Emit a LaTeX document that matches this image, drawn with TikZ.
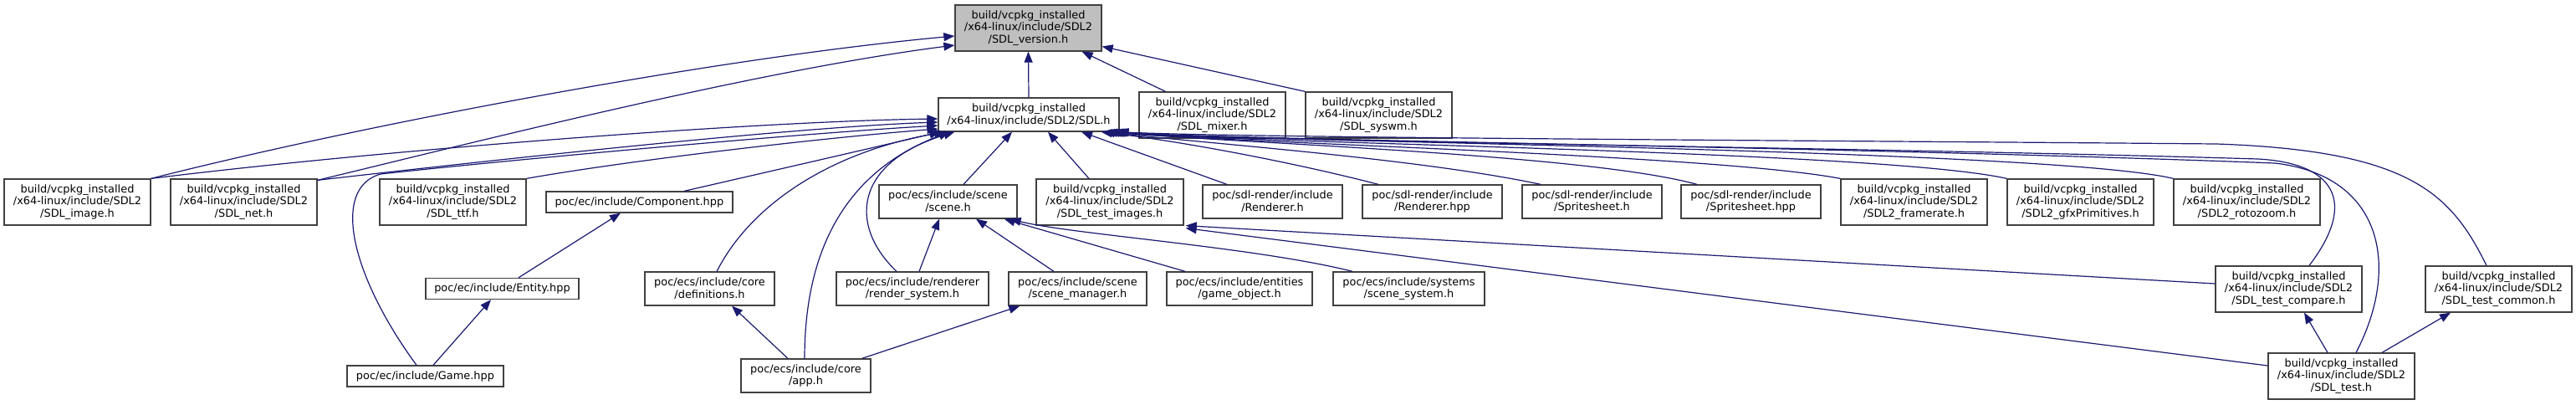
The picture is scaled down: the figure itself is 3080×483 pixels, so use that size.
\documentclass[tikz,border=0pt]{standalone}
\usepackage{fontspec}
\setmainfont{DejaVu Sans}
\usepackage{tikz}
\usetikzlibrary{arrows.meta}
\definecolor{edgeblue}{HTML}{191970}
\definecolor{boxgray}{HTML}{BFBFBF}
\definecolor{boxline}{HTML}{404040}

\begin{document}
\begin{tikzpicture}[
  x=1pt,y=-1pt,
  bx/.style={draw=boxline,fill=white,line width=1.3pt,inner sep=0pt,align=center,
    font={\fontsize{12.9}{14.7}\selectfont}},
  one/.style={bx,minimum height=25pt},
  two/.style={bx,minimum height=40pt},
  three/.style={bx,minimum height=55pt},
  dep/.style={edgeblue,line width=1.2pt,-{Triangle[length=13pt,width=10pt]}}
]
\useasboundingbox (0,0) rectangle (3080,483);

\node[three,fill=boxgray,minimum width=175pt] (ver) at (1229.5,33.5) {build/vcpkg\_installed\\/x64-linux/include/SDL2\\/SDL\_version.h};
\node[two,minimum width=216pt] (sdl) at (1230,137) {build/vcpkg\_installed\\/x64-linux/include/SDL2/SDL.h};
\node[three,minimum width=175pt] (mixer) at (1449.5,137.5) {build/vcpkg\_installed\\/x64-linux/include/SDL2\\/SDL\_mixer.h};
\node[three,minimum width=175pt] (syswm) at (1648.5,137.5) {build/vcpkg\_installed\\/x64-linux/include/SDL2\\/SDL\_syswm.h};

\node[three,minimum width=175pt] (image) at (92.5,241.5) {build/vcpkg\_installed\\/x64-linux/include/SDL2\\/SDL\_image.h};
\node[three,minimum width=175pt] (net) at (291.5,241.5) {build/vcpkg\_installed\\/x64-linux/include/SDL2\\/SDL\_net.h};
\node[three,minimum width=175pt] (ttf) at (541.5,241.5) {build/vcpkg\_installed\\/x64-linux/include/SDL2\\/SDL\_ttf.h};
\node[one,minimum width=223pt] (comp) at (764.5,241.5) {poc/ec/include/Component.hpp};
\node[two,minimum width=165pt] (scene) at (1133.5,241) {poc/ecs/include/scene\\/scene.h};
\node[three,minimum width=176pt] (timg) at (1327,241.5) {build/vcpkg\_installed\\/x64-linux/include/SDL2\\/SDL\_test\_images.h};
\node[two,minimum width=167pt] (rendh) at (1521.5,241) {poc/sdl-render/include\\/Renderer.h};
\node[two,minimum width=167pt] (rendhpp) at (1712.5,241) {poc/sdl-render/include\\/Renderer.hpp};
\node[two,minimum width=167pt] (spriteh) at (1903.5,241) {poc/sdl-render/include\\/Spritesheet.h};
\node[two,minimum width=167pt] (spritehpp) at (2093.5,241) {poc/sdl-render/include\\/Spritesheet.hpp};
\node[three,minimum width=175pt] (frame) at (2288.5,241.5) {build/vcpkg\_installed\\/x64-linux/include/SDL2\\/SDL2\_framerate.h};
\node[three,minimum width=175pt] (gfx) at (2487.5,241.5) {build/vcpkg\_installed\\/x64-linux/include/SDL2\\/SDL2\_gfxPrimitives.h};
\node[three,minimum width=175pt] (roto) at (2686.5,241.5) {build/vcpkg\_installed\\/x64-linux/include/SDL2\\/SDL2\_rotozoom.h};

\node[one,minimum width=183pt] (entity) at (600.5,345) {poc/ec/include/Entity.hpp};
\node[two,minimum width=155pt] (defs) at (848.5,345) {poc/ecs/include/core\\/definitions.h};
\node[two,minimum width=182pt] (rsys) at (1091,345) {poc/ecs/include/renderer\\/render\_system.h};
\node[two,minimum width=165pt] (smgr) at (1288.5,345) {poc/ecs/include/scene\\/scene\_manager.h};
\node[two,minimum width=174pt] (gobj) at (1482,345) {poc/ecs/include/entities\\/game\_object.h};
\node[two,minimum width=181pt] (ssys) at (1684.5,345) {poc/ecs/include/systems\\/scene\_system.h};
\node[three,minimum width=175pt] (cmp) at (2736.5,345.5) {build/vcpkg\_installed\\/x64-linux/include/SDL2\\/SDL\_test\_compare.h};
\node[three,minimum width=175pt] (common) at (2987.5,345.5) {build/vcpkg\_installed\\/x64-linux/include/SDL2\\/SDL\_test\_common.h};

\node[one,minimum width=187pt] (game) at (508.5,449.5) {poc/ec/include/Game.hpp};
\node[two,minimum width=155pt] (app) at (963.5,449) {poc/ecs/include/core\\/app.h};
\node[three,minimum width=175pt] (test) at (2799.5,449.5) {build/vcpkg\_installed\\/x64-linux/include/SDL2\\/SDL\_test.h};

% into SDL_version.h
\draw[dep] (sdl.north) -- (ver.south);
\draw[dep] (image.north east) .. controls (430,150) and (850,70) .. ([yshift=-9.5pt]ver.west);
\draw[dep] ([yshift=-2pt]net.north east) .. controls (560,172) and (900,85) .. ([yshift=-20.5pt]ver.west);
\draw[dep] ([xshift=-56pt]mixer.north) -- ([xshift=-24pt]ver.south east);
\draw[dep] (syswm.north west) -- ([yshift=-22pt]ver.east);

% into SDL.h, left side
\draw[dep] (image.north east) .. controls (450,180) and (900,145) .. ([yshift=-5pt]sdl.west);
\draw[dep] ([yshift=-2pt]net.north east) .. controls (600,190) and (950,152) .. ([yshift=-9pt]sdl.west);
\draw[dep] ([xshift=-10.5pt]game.north) .. controls (420,330) and (395,225) .. (455,208) .. controls (600,192) and (950,160) .. ([yshift=-13pt]sdl.west);
\draw[dep] (ttf.north east) .. controls (750,192) and (980,165) .. ([yshift=-17pt]sdl.west);
\draw[dep] ([xshift=53.5pt]comp.north) .. controls (920,205) and (1050,175) .. ([xshift=3pt]sdl.south west);
\draw[dep] ([xshift=8.5pt]defs.north) .. controls (900,240) and (1000,180) .. ([xshift=9pt]sdl.south west);
\draw[dep] ([xshift=-1.5pt]app.north) .. controls (962,300) and (1010,205) .. ([xshift=14pt]sdl.south west);
\draw[dep] ([xshift=-19pt]rsys.north) .. controls (1015,270) and (1020,195) .. ([xshift=20pt]sdl.south west);

% into SDL.h, from below
\draw[dep] ([xshift=18.5pt]scene.north) -- ([xshift=-20pt]sdl.south);
\draw[dep] ([xshift=-25pt]timg.north) -- ([xshift=23pt]sdl.south);
\draw[dep] ([xshift=-54.5pt]rendh.north) -- ([xshift=63pt]sdl.south);

% into SDL.h, right side
\draw[dep] ([xshift=-64.5pt]rendhpp.north) .. controls (1550,195) and (1420,170) .. ([xshift=-22pt]sdl.south east);
\draw[dep] ([xshift=-61.5pt]spriteh.north) .. controls (1700,190) and (1450,172) .. ([xshift=-19pt]sdl.south east);
\draw[dep] ([xshift=-64.5pt]spritehpp.north) .. controls (1900,185) and (1500,172) .. ([xshift=-16pt]sdl.south east);
\draw[dep] (frame.north west) .. controls (2050,185) and (1500,172) .. ([xshift=-13pt]sdl.south east);
\draw[dep] (gfx.north west) .. controls (2250,180) and (1500,172) .. ([xshift=-10pt]sdl.south east);
\draw[dep] (roto.north west) .. controls (2450,178) and (1500,170) .. ([xshift=-8pt]sdl.south east);
\draw[dep] ([xshift=24.5pt]cmp.north) .. controls (2820,240) and (2790,195) .. (2700,190) .. controls (2200,175) and (1500,170) .. ([xshift=-6pt]sdl.south east);
\draw[dep] ([xshift=17.5pt]test.north) .. controls (2870,320) and (2850,210) .. (2720,195) .. controls (2200,175) and (1500,168) .. ([xshift=-4pt]sdl.south east);
\draw[dep] ([xshift=-14.5pt]common.north) .. controls (2930,230) and (2880,180) .. (2650,172) .. controls (2200,168) and (1500,165) .. ([xshift=-2pt]sdl.south east);

% the rest
\draw[dep] ([xshift=19.5pt]entity.north) -- ([xshift=-22.5pt]comp.south);
\draw[dep] ([xshift=9.5pt]game.north) -- ([xshift=-13.5pt]entity.south);
\draw[dep] ([xshift=-21.5pt]app.north) -- ([xshift=26.5pt]defs.south);
\draw[dep] ([xshift=-11pt]app.north east) -- ([xshift=14pt]smgr.south west);
\draw[dep] ([xshift=8pt]rsys.north) -- ([xshift=-10.5pt]scene.south);
\draw[dep] ([xshift=-28.5pt]smgr.north) -- ([xshift=33.5pt]scene.south);
\draw[dep] ([xshift=-65pt]gobj.north) -- ([xshift=-16pt]scene.south east);
\draw[dep] ([xshift=-67.5pt]ssys.north) .. controls (1500,295) and (1280,280) .. ([xshift=-9pt]scene.south east);
\draw[dep] ([yshift=6.5pt]cmp.west) -- ([xshift=2pt]timg.south east);
\draw[dep] ([yshift=12.5pt]test.west) -- ([xshift=2pt,yshift=-3pt]timg.south east);
\draw[dep] ([xshift=-16.5pt]test.north) -- ([xshift=18.5pt]cmp.south);
\draw[dep] ([xshift=48.5pt]test.north) -- ([xshift=-57.5pt]common.south);
\end{tikzpicture}
\end{document}
